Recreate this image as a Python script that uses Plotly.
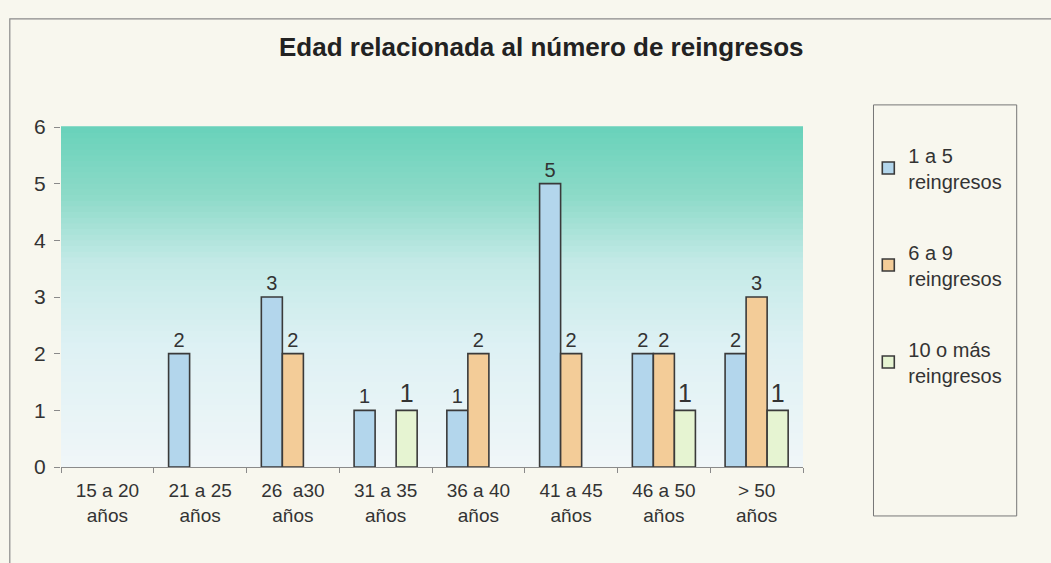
import plotly.graph_objects as go

categories = ["15 a 20<br>años", "21 a 25<br>años", "26  a30<br>años", "31 a 35<br>años",
              "36 a 40<br>años", "41 a 45<br>años", "46 a 50<br>años", "> 50<br>años"]
series_names = ["1 a 5<br>reingresos", "6 a 9<br>reingresos", "10 o más<br>reingresos"]
s1 = [0, 2, 3, 1, 1, 5, 2, 2]
s2 = [0, 0, 2, 0, 2, 2, 2, 3]
s3 = [0, 0, 0, 1, 0, 0, 1, 1]
y_ticks = [0, 1, 2, 3, 4, 5, 6]

FONT = "Liberation Sans, Arial, sans-serif"
colors = ["#b3d6ec", "#f3cc98", "#e6f4d2"]
label_sizes = [20, 20, 25]

fig = go.Figure()
for name, vals, col, ls in zip(series_names, [s1, s2, s3], colors, label_sizes):
    fig.add_trace(go.Bar(
        x=categories, y=[v if v else None for v in vals], name=name, legendgroup=name,
        marker=dict(color=col, line=dict(color="#3a3a3a", width=1.6)),
        text=[str(v) if v else "" for v in vals],
        textposition="outside", cliponaxis=False,
        textfont=dict(family=FONT, size=ls, color="#333333"),
    ))

# gradient plot background (teal -> pale)
def lerp(c1, c2, t):
    return tuple(round(a + (b - a) * t) for a, b in zip(c1, c2))

stops = [(0.0, (240, 246, 248)), (0.35, (222, 241, 244)), (0.6, (196, 234, 231)),
         (0.8, (140, 218, 200)), (1.0, (105, 210, 186))]
N = 60
shapes = []
for i in range(N):
    t0 = i / N
    t1 = (i + 1) / N
    tm = (t0 + t1) / 2
    for (a, ca), (b, cb) in zip(stops[:-1], stops[1:]):
        if a <= tm <= b:
            c = lerp(ca, cb, (tm - a) / (b - a))
            break
    shapes.append(dict(type="rect", xref="x domain", yref="y domain",
                       x0=0, x1=1, y0=t0, y1=t1 + 0.002, layer="below",
                       line=dict(width=0), fillcolor="rgb(%d,%d,%d)" % c))

# legend box and outer frame
shapes.append(dict(type="rect", xref="paper", yref="paper", x0=1.095, x1=1.288,
                   y0=-0.144, y1=1.065, line=dict(color="#777777", width=1),
                   fillcolor="rgba(0,0,0,0)"))
shapes.append(dict(type="rect", xref="paper", yref="paper", x0=-0.069, x1=1.35,
                   y0=-0.3, y1=1.318, line=dict(color="#8a8a8a", width=1.2),
                   fillcolor="rgba(0,0,0,0)"))

fig.update_layout(
    width=1051, height=563,
    margin=dict(l=61, r=248, t=127, b=96),
    paper_bgcolor="#f8f7ee", plot_bgcolor="rgba(0,0,0,0)",
    barmode="group", bargap=0.32, bargroupgap=0.0,
    title=dict(text="<b>Edad relacionada al número de reingresos</b>",
               x=0.515, xanchor="center", y=0.917, yanchor="middle",
               font=dict(family=FONT, size=26, color="#222222")),
    legend=dict(x=1.088, y=0.975, xanchor="left", yanchor="top",
                font=dict(family=FONT, size=20, color="#333333"),
                bgcolor="rgba(0,0,0,0)", borderwidth=0,
                tracegroupgap=42, traceorder="grouped", itemwidth=30),
    shapes=shapes,
    showlegend=True,
)
fig.update_xaxes(showline=True, linecolor="#8a8a8a", linewidth=1.2,
                 ticks="outside", tickson="boundaries", ticklen=5, tickcolor="#8a8a8a",
                 showgrid=False, ticklabelstandoff=6,
                 tickfont=dict(family=FONT, size=19, color="#333333"))
fig.update_yaxes(range=[0, 6], tickvals=y_ticks, showline=False,
                 ticks="outside", ticklen=6, tickcolor="#8a8a8a",
                 showgrid=False, zeroline=False, ticklabelstandoff=4,
                 tickfont=dict(family=FONT, size=21, color="#333333"))

fig.write_html("out.html", config={"displayModeBar": False},
               post_script="document.body.style.margin='0';")
